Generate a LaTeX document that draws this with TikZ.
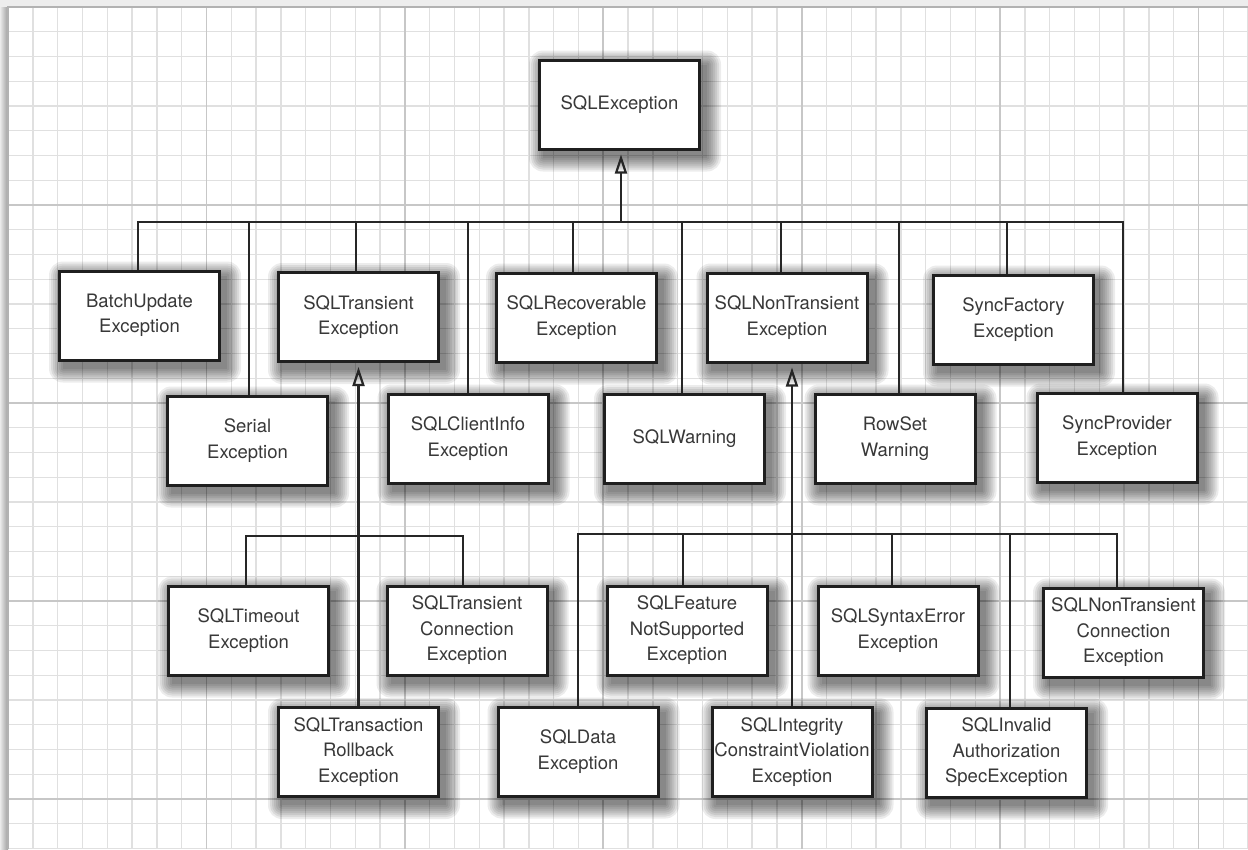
\documentclass[tikz,border=0pt]{standalone}
\usepackage{fontspec}
\setmainfont{TeX Gyre Heros}
\usetikzlibrary{arrows.meta}
\pgfdeclarelayer{gridlayer}
\pgfdeclarelayer{shadowlayer}
\pgfsetlayers{gridlayer,shadowlayer,main}
\begin{document}
\begin{tikzpicture}[x=1pt,y=-1pt,
  minorline/.style={draw=black!12, line width=1.4pt},
  majorline/.style={draw=black!22, line width=1.8pt},
  cls/.style={draw=black!88, line width=3pt, fill=white,
    minimum width=160pt, minimum height=89pt, inner sep=0pt, align=center,
    font=\fontsize{18.5}{25.5}\selectfont, text=black!78},
  link/.style={draw=black!85, line width=2.5pt},
  inh/.style={link, -{Triangle[open,length=19pt,width=12pt,line width=2.2pt]}, shorten >=4pt},
  shadowpiece/.style={fill=black, opacity=0.075}]
\useasboundingbox (0,0) rectangle (1248,849);
% paper and grid
\begin{pgfonlayer}{gridlayer}
\fill[white] (0,0) rectangle (1248,849);
\fill[black!7] (0,0) rectangle (1248,7);
\shade[left color=black!8, right color=black!38] (0,7) rectangle (8,849);
\foreach \k in {1,...,50} {\draw[minorline] ({8+24.8*\k},7) -- ({8+24.8*\k},849);}
\foreach \k in {1,...,34} {\draw[minorline] (8,{7+24.75*\k}) -- (1248,{7+24.75*\k});}
\foreach \k in {8,16,...,48} {\draw[majorline] ({8+24.8*\k},7) -- ({8+24.8*\k},849);}
\foreach \k in {8,16,24,32} {\draw[majorline] (8,{7+24.75*\k}) -- (1248,{7+24.75*\k});}
\draw[black!30, line width=1.2pt] (8,849) -- (8,7) -- (1248,7);
\end{pgfonlayer}

% classes
\node[cls] (sqlex) at (619.5,104.5) {SQLException};
\node[cls] (batch) at (139.5,315.5) {BatchUpdate\\Exception};
\node[cls] (trans) at (358.5,317) {SQLTransient\\Exception};
\node[cls] (recov) at (576.5,317.5) {SQLRecoverable\\Exception};
\node[cls] (nontrans) at (787,317.5) {SQLNonTransient\\Exception};
\node[cls] (syncfact) at (1013.5,319.5) {SyncFactory\\Exception};
\node[cls] (serial) at (247.5,440.5) {Serial\\Exception};
\node[cls] (client) at (468,438.5) {SQLClientInfo\\Exception};
\node[cls] (warn) at (684.5,439) {SQLWarning};
\node[cls] (rowset) at (895,438.5) {RowSet\\Warning};
\node[cls] (syncprov) at (1117,437.5) {SyncProvider\\Exception};
\node[cls] (timeout) at (248.5,630.5) {SQLTimeout\\Exception};
\node[cls] (tconn) at (467,630.5) {SQLTransient\\Connection\\Exception};
\node[cls] (rollback) at (358.5,752) {SQLTransaction\\Rollback\\Exception};
\node[cls] (feature) at (687,630.5) {SQLFeature\\NotSupported\\Exception};
\node[cls] (syntax) at (898,630.5) {SQLSyntaxError\\Exception};
\node[cls] (ntconn) at (1123.5,632.5) {SQLNonTransient\\Connection\\Exception};
\node[cls] (data) at (578,751.5) {SQLData\\Exception};
\node[cls] (integ) at (792,752) {SQLIntegrity\\ConstraintViolation\\Exception};
\node[cls] (invalid) at (1006.5,752.5) {SQLInvalid\\Authorization\\SpecException};

% soft shadows
\begin{pgfonlayer}{shadowlayer}
\foreach \n in {sqlex,batch,trans,recov,nontrans,syncfact,serial,client,warn,rowset,syncprov,timeout,tconn,rollback,feature,syntax,ntconn,data,integ,invalid}
  {\foreach \r in {0,2,4,6,8,10,12,14}
    {\fill[shadowpiece, rounded corners=\r pt] ([shift={({5-\r},{6-\r})}]\n.north west) rectangle ([shift={({6+\r},{7+\r})}]\n.south east);}}
\end{pgfonlayer}

% level 1 bus
\coordinate (jroot) at (621,222);
\coordinate (jbatch) at (138,222);
\coordinate (jserial) at (249,222);
\coordinate (jtrans) at (356,222);
\coordinate (jclient) at (468,222);
\coordinate (jrecov) at (573,222);
\coordinate (jwarn) at (682,222);
\coordinate (jnontrans) at (781,222);
\coordinate (jrowset) at (899,222);
\coordinate (jsyncfact) at (1007,222);
\coordinate (jsyncprov) at (1123,222);
\draw[link] (jbatch |- batch.north) -- (jbatch) -- (jsyncprov) -- (jsyncprov |- syncprov.north);
\foreach \j/\n in {jserial/serial, jtrans/trans, jclient/client, jrecov/recov, jwarn/warn, jnontrans/nontrans, jrowset/rowset, jsyncfact/syncfact}
  {\draw[link] (\j) -- (\j |- \n.north);}
\draw[inh] (jroot) -- (jroot |- sqlex.south);

% SQLTransient subtree
\coordinate (tl) at (246,536);
\coordinate (tr) at (463,536);
\draw[link] (tl |- timeout.north) -- (tl) -- (tr) -- (tr |- tconn.north);
\draw[inh] (rollback.north) -- (rollback.north |- trans.south);

% SQLNonTransient subtree
\coordinate (nr) at (1117,534);
\coordinate (jfeat) at (683,534);
\coordinate (jsyntax) at (892,534);
\coordinate (jinvalid) at (1010,534);
\draw[link] (data.north) |- (nr) -- (nr |- ntconn.north);
\draw[link] (jfeat) -- (jfeat |- feature.north);
\draw[link] (jsyntax) -- (jsyntax |- syntax.north);
\draw[link] (jinvalid) -- (jinvalid |- invalid.north);
\draw[inh] (integ.north) -- (integ.north |- nontrans.south);
\end{tikzpicture}
\end{document}
